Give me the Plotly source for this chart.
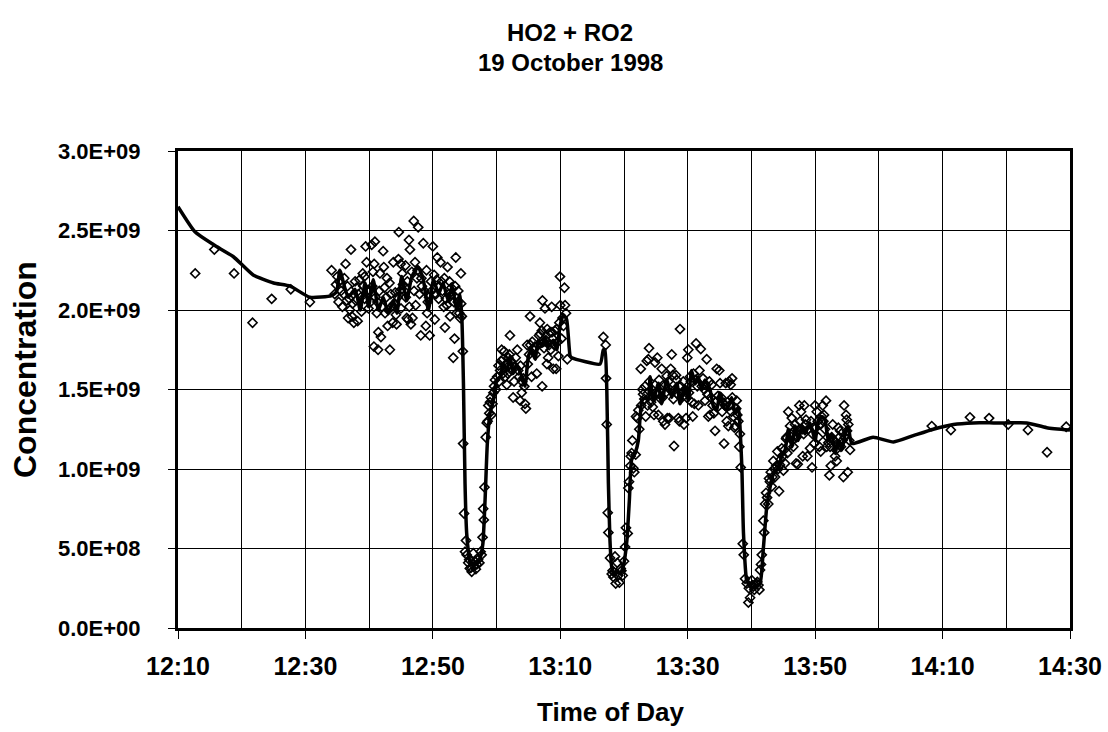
import pandas as pd
import plotly.graph_objects as go

# ---- data (time = minutes after 12:00, value = concentration / 1e9) ----
scatter_min = [
    12.7, 15.7, 18.8, 21.7, 24.7, 27.7, 30.7, 34.1,
    34.6, 35.0, 35.3, 35.6, 36.0, 36.3, 36.5, 36.7, 36.9, 37.15, 37.3, 37.4, 37.6, 37.8, 38.0, 38.2,
    38.5, 38.7, 39.0, 39.1, 39.25, 39.45, 39.6, 39.9, 40.1, 40.4, 40.6, 40.8, 40.9, 40.75, 41.3, 41.4,
    41.45, 41.7, 41.85, 42.2, 42.3, 42.5, 42.7, 42.9, 43.2, 43.25, 43.5, 43.7, 43.8, 44.1, 44.3, 44.6,
    44.65, 44.95, 45.0, 45.3, 45.7, 45.75, 45.9, 46.1, 46.25, 46.4, 46.55, 46.8, 47.0, 47.05, 47.3, 47.5,
    47.7, 48.1, 48.3, 48.5, 48.9, 49.0, 49.2, 49.5, 49.8, 50.0, 50.3, 50.6, 50.7, 50.9, 51.2, 51.35,
    51.7, 51.9, 52.05, 52.3, 52.5, 52.7, 52.9, 53.2, 53.4, 53.5, 53.6, 53.9, 54.15, 54.3, 54.4, 54.45,
    34.8, 35.2, 35.8, 36.1, 36.6, 37.0, 37.9, 38.3, 38.8, 39.3, 39.7, 40.2, 40.5, 41.0, 41.2, 41.6,
    42.0, 42.4, 42.8, 43.0, 43.4, 43.9, 44.2, 44.5, 44.8, 45.2, 45.5, 46.0, 46.3, 46.7, 47.2, 47.6,
    47.9, 48.2, 48.7, 49.1, 49.4, 49.7, 50.2, 50.5, 51.0, 51.5, 51.8, 52.2, 52.6, 53.0, 53.3, 53.7,
    54.0, 54.55,
    54.7, 54.75, 54.9, 55.05, 55.3, 55.55, 55.8, 56.1, 56.35, 56.6, 56.9, 57.3, 57.5, 57.8, 57.9, 58.1,
    58.3, 58.45, 58.7, 58.97, 59.2, 59.5, 59.75, 60.1, 60.3, 60.55, 60.8, 61.05, 61.2, 61.35, 61.6, 61.85,
    61.9, 62.1, 62.4, 62.6, 62.9, 63.25, 63.7, 63.75, 63.95, 64.2, 64.45, 64.6, 64.8, 65.25, 65.3, 65.5,
    65.8, 66.0, 66.3, 66.8, 66.85, 67.1, 67.15, 67.2, 67.6, 67.75, 67.9, 67.95, 68.1, 68.4, 68.65, 68.7,
    68.9, 69.15, 69.35, 69.45, 69.7, 69.95, 70.0, 70.2, 70.5, 70.65, 70.75, 71.1,
    55.2, 55.7, 56.0, 56.5, 56.75, 57.1, 57.65, 58.0, 58.6, 58.85, 59.1, 59.35, 59.6, 59.9, 60.4, 60.7,
    61.0, 61.45, 61.75, 62.0, 62.25, 62.75, 63.0, 63.4, 63.55, 64.0, 64.35, 64.9, 65.1, 65.6, 66.15,
    66.5, 66.65, 67.4, 67.45, 68.25, 68.5, 68.8, 69.05, 69.6, 69.85, 70.35, 70.9,
    76.76, 77.13, 77.18, 77.29, 77.45, 77.54,
    77.81, 78.07, 78.33, 78.59, 78.70, 78.95, 79.27, 79.49, 79.80, 80.17, 80.59, 80.68, 80.79, 81.06,
    81.31, 81.47, 81.62, 81.84, 81.89, 82.09, 82.25, 82.63, 82.88, 83.19, 83.41, 83.57, 83.82, 83.93,
    84.25, 84.51, 84.71, 84.87, 85.23, 85.39, 85.65, 85.92, 86.17, 86.44, 86.70, 86.80, 87.11, 87.33,
    87.49, 87.65, 87.85, 88.17, 88.28, 88.53, 88.69, 88.79, 89.42, 89.74, 89.94, 90.10, 90.36, 90.63,
    90.79, 91.04, 91.31, 91.67, 92.05, 92.20, 92.72, 92.98, 93.24, 93.50, 93.77, 94.29, 94.55, 94.96,
    95.07, 95.50, 95.70, 95.97, 96.13, 96.38, 96.54, 96.75, 96.96, 97.16, 97.32, 97.48, 97.69, 97.79,
    98.10, 98.32, 98.64, 98.79,
    78.2, 78.45, 79.1, 79.6, 80.0, 80.3, 81.0, 81.2, 82.4, 82.7, 83.0, 83.3, 83.7, 84.0, 84.4, 84.6,
    85.0, 85.5, 85.8, 86.05, 86.3, 86.55, 86.95, 87.2, 87.75, 88.0, 88.4, 88.9, 89.1, 89.3, 89.55,
    89.85, 90.2, 90.5, 90.9, 91.2, 91.5, 91.85, 92.4, 92.6, 92.85, 93.1, 93.4, 93.65, 93.9, 94.1,
    94.4, 94.75, 95.25, 95.4, 95.85, 96.25, 96.6, 96.85, 97.0, 97.6, 97.95, 98.2,
    99.00, 99.27, 99.52, 99.79, 100.05, 100.30, 100.57, 100.93, 101.25,
    101.35, 101.62, 101.87, 102.14, 102.29, 102.65, 102.76, 103.03, 103.19, 103.44, 103.71, 104.07,
    104.34, 104.49, 104.76, 105.01, 105.28, 105.43, 105.64, 105.79, 106.06, 106.33, 106.58, 106.84,
    107.00, 107.27, 107.52, 107.78, 108.05, 108.30, 108.57, 108.78, 109.20, 109.51, 109.72, 109.98,
    110.25, 110.50, 110.66, 110.88, 111.19, 111.40, 111.71, 111.82, 112.07, 112.23, 112.45, 112.76,
    113.13, 113.39, 113.64, 113.91, 114.43, 114.54, 114.85, 114.96, 115.12, 115.21, 115.48,
    99.6, 100.15, 100.45, 100.75, 101.1, 101.5, 102.0, 102.45, 102.9, 103.3, 103.6, 103.9, 104.2,
    104.6, 104.9, 105.15, 105.5, 105.9, 106.2, 106.45, 106.7, 107.1, 107.4, 107.65, 107.95, 108.2,
    108.45, 108.9, 109.35, 109.6, 109.85, 110.1, 110.4, 110.75, 111.05, 111.3, 111.55, 111.95,
    112.35, 112.6, 112.9, 113.25, 113.5, 113.8, 114.05, 114.3, 114.65, 115.0, 115.35,
    128.3, 131.3, 134.3, 137.3, 140.3, 143.4, 146.4, 149.4,
]
scatter_val = [
    2.23, 2.38, 2.23, 1.92, 2.07, 2.13, 2.05, 2.25,
    2.10, 2.21, 2.18, 2.12, 2.10, 2.29, 2.06, 1.95, 2.07, 2.38, 1.96, 2.04, 1.92, 2.18, 2.14, 1.93,
    2.19, 2.08, 2.23, 2.15, 2.21, 2.40, 2.30, 2.01, 2.12, 2.41, 2.24, 2.29, 2.43, 1.77, 2.05, 1.75,
    1.86, 2.23, 1.83, 2.37, 2.27, 1.98, 2.08, 1.90, 2.17, 1.75, 2.02, 1.92, 2.30, 2.11, 1.91, 2.32,
    2.49, 2.29, 2.01, 2.16, 2.28, 2.08, 1.95, 1.94, 2.44, 2.38, 1.91, 1.95, 2.56, 2.12, 2.03, 2.20,
    2.52, 1.84, 2.15, 2.42, 1.90, 2.25, 2.05, 1.84, 2.12, 2.40, 1.94, 2.19, 2.33, 2.07, 2.30, 2.18,
    2.02, 1.89, 2.07, 2.27, 2.10, 1.96, 2.14, 1.70, 1.82, 2.15, 2.33, 2.05, 1.98, 1.95, 2.23, 2.04,
    2.16, 2.05, 2.02, 2.20, 2.15, 2.00, 2.06, 2.10, 1.99, 2.07, 2.12, 2.05, 2.15, 2.08, 1.98, 2.12,
    2.02, 2.14, 2.20, 2.00, 2.10, 2.04, 1.97, 2.08, 2.12, 2.23, 2.12, 2.18, 2.02, 2.24, 2.30, 2.25,
    2.10, 2.20, 2.12, 1.98, 2.08, 2.18, 2.22, 2.10, 2.15, 2.12, 2.20, 2.03, 2.18, 2.10, 2.05, 1.98,
    2.12, 1.96,
    1.74, 1.16, 0.72, 0.48, 0.46, 0.41, 0.375, 0.354, 0.47, 0.42, 0.40, 0.41, 0.48, 0.57, 0.75, 0.885,
    1.20, 1.29, 1.40, 1.42, 1.34, 1.48, 1.56, 1.58, 1.65, 1.62, 1.75, 1.69, 1.74, 1.58, 1.53, 1.70,
    1.65, 1.84, 1.62, 1.45, 1.64, 1.75, 1.43, 1.65, 1.48, 1.57, 1.41, 1.38, 1.78, 1.96, 1.78, 1.58,
    1.75, 1.77, 1.60, 1.92, 1.85, 1.87, 1.52, 2.06, 2.01, 1.81, 1.66, 1.88, 1.70, 1.86, 2.02, 1.86,
    1.63, 1.87, 1.63, 1.88, 1.71, 2.21, 2.03, 1.82, 1.90, 2.14, 2.03, 1.69,
    0.55, 0.43, 0.38, 0.39, 0.37, 0.43, 0.46, 0.68, 1.30, 1.35, 1.45, 1.41, 1.52, 1.50, 1.55, 1.68,
    1.60, 1.66, 1.60, 1.72, 1.68, 1.55, 1.70, 1.62, 1.58, 1.55, 1.52, 1.66, 1.72, 1.80, 1.72,
    1.78, 1.84, 1.80, 1.76, 1.78, 1.75, 1.82, 1.78, 1.80, 1.92, 1.95, 1.98,
    1.83, 1.78, 1.57, 1.28, 0.725, 0.60,
    0.44, 0.34, 0.32, 0.45, 0.28, 0.41, 0.285, 0.375, 0.33, 0.51, 0.595, 0.88, 0.92, 1.08,
    1.18, 1.005, 0.98, 1.09, 1.33, 1.32, 1.37, 1.63, 1.50, 1.44, 1.33, 1.68, 1.69, 1.76,
    1.42, 1.39, 1.34, 1.67, 1.70, 1.34, 1.445, 1.63, 1.30, 1.28, 1.585, 1.32, 1.32, 1.63,
    1.72, 1.59, 1.145, 1.59, 1.56, 1.32, 1.30, 1.88, 1.28, 1.32, 1.70, 1.75, 1.58, 1.42,
    1.33, 1.41, 1.79, 1.40, 1.755, 1.52, 1.43, 1.69, 1.33, 1.34, 1.53, 1.24, 1.63, 1.62,
    1.54, 1.42, 1.16, 1.54, 1.30, 1.27, 1.55, 1.53, 1.57, 1.33, 1.26, 1.27, 1.43, 1.34,
    1.14, 1.01, 0.53, 0.46,
    0.36, 0.35, 0.33, 0.36, 0.42, 0.63, 1.02, 1.10, 1.25, 1.40, 1.47, 1.52, 1.40, 1.55, 1.50, 1.45,
    1.48, 1.56, 1.50, 1.45, 1.52, 1.48, 1.55, 1.50, 1.44, 1.50, 1.47, 1.52, 1.45, 1.55, 1.50,
    1.45, 1.48, 1.55, 1.60, 1.56, 1.52, 1.62, 1.57, 1.50, 1.53, 1.47, 1.55, 1.45, 1.40, 1.35,
    1.42, 1.46, 1.45, 1.36, 1.40, 1.42, 1.40, 1.36, 1.45, 1.38, 1.30, 1.22,
    0.31, 0.28, 0.16, 0.19, 0.30, 0.26, 0.27, 0.29, 0.24,
    0.365, 0.46, 0.675, 0.78, 0.85, 0.78, 0.94, 0.98, 0.89, 1.05, 0.95, 1.11,
    0.86, 1.025, 1.13, 0.99, 1.035, 1.19, 1.10, 1.36, 1.27, 1.32, 1.14, 1.28,
    1.035, 1.03, 1.40, 1.36, 1.08, 1.40, 1.31, 1.08, 1.13, 1.01, 1.26, 1.40,
    1.36, 1.20, 1.14, 1.11, 1.40, 1.34, 1.43, 1.14, 1.165, 0.96, 1.02, 1.28,
    1.08, 1.05, 1.26, 1.24, 0.95, 1.40, 1.34, 1.31, 0.98, 1.28, 1.12,
    0.25, 0.27, 0.24, 0.28, 0.27, 0.40, 0.60, 0.82, 0.92, 0.95, 1.00, 1.02, 1.00,
    1.06, 1.08, 1.12, 1.20, 1.15, 1.22, 1.18, 1.24, 1.20, 1.24, 1.30, 1.25, 1.22,
    1.28, 1.25, 1.30, 1.22, 1.16, 1.26, 1.30, 1.28, 1.33, 1.30, 1.25, 1.20,
    1.14, 1.20, 1.18, 1.12, 1.16, 1.20, 1.14, 1.18, 1.20, 1.24, 1.18,
    1.27, 1.245, 1.325, 1.32, 1.28, 1.245, 1.105, 1.266,
]

line_min = [
    10.0, 12.7, 15.6, 18.7, 21.8, 25.0, 27.6, 30.7, 34.1, 34.9, 35.4,
    36.7, 37.8, 38.6, 39.35, 39.9, 40.65, 41.45, 42.2, 43.0, 43.8, 44.35, 45.1, 45.9, 46.7,
    47.7, 48.5, 49.3, 50.1, 50.9, 51.6, 52.4, 53.0, 53.75, 54.25, 54.55,
    54.8, 55.05, 55.3, 55.55, 55.85, 56.35, 56.9, 57.4, 57.85, 58.2, 58.55, 58.97, 59.5, 60.0,
    60.55, 61.05, 61.6, 62.1, 62.6, 63.15, 63.95, 64.45, 65.0, 65.5, 66.05, 66.55, 67.1, 67.6,
    68.1, 68.9, 69.45, 69.95, 70.5, 71.0, 71.55, 71.8, 76.25, 76.75, 77.0,
    77.3, 77.55, 77.8, 78.05, 78.35, 78.85, 79.4, 79.9, 80.45, 80.85, 81.2, 81.75, 82.25, 82.5,
    82.8, 83.3, 83.8, 84.1, 84.6, 85.4, 85.9, 86.7, 87.5, 88.3, 88.8, 89.6, 90.1, 90.6,
    91.15, 91.65, 92.2, 92.7, 93.5, 94.05, 94.55, 95.05, 95.6, 96.15, 96.9, 97.45, 97.95, 98.2,
    98.5, 98.75, 99.25, 99.8, 100.55, 101.35, 101.85, 102.4, 102.95, 103.45, 104.25, 104.75,
    105.3, 105.8, 106.35, 106.85, 107.35, 107.9, 108.4, 109.2, 110.0, 110.5, 111.05, 111.55,
    112.05, 112.6, 113.15, 113.65, 114.2, 114.7, 115.2, 115.75,
    119.1, 122.3, 125.4, 128.55, 131.7, 134.8, 138.0, 140.1, 143.2, 146.35, 150.0,
]
line_val = [
    2.65, 2.49, 2.41, 2.335, 2.22, 2.17, 2.15, 2.08, 2.09, 2.115, 2.25,
    2.08, 2.13, 2.00, 2.17, 2.02, 2.19, 2.00, 2.08, 1.98, 2.06, 1.98, 2.21, 2.06, 2.21,
    2.27, 2.19, 2.00, 2.19, 2.10, 2.17, 2.06, 2.15, 2.00, 2.10, 1.95,
    1.54, 0.91, 0.60, 0.49, 0.41, 0.40, 0.41, 0.44, 0.53, 0.81, 1.16, 1.35, 1.43, 1.56,
    1.58, 1.66, 1.62, 1.71, 1.60, 1.66, 1.58, 1.52, 1.71, 1.75, 1.69, 1.81, 1.77, 1.83,
    1.77, 1.81, 1.75, 1.90, 1.97, 1.94, 1.71, 1.70, 1.66, 1.75, 1.75,
    1.50, 0.91, 0.55, 0.39, 0.34, 0.36, 0.34, 0.39, 0.55, 0.81, 1.06, 1.10, 1.18, 1.31,
    1.43, 1.45, 1.43, 1.58, 1.43, 1.54, 1.41, 1.56, 1.45, 1.54, 1.41, 1.52, 1.43, 1.62,
    1.54, 1.58, 1.50, 1.56, 1.50, 1.39, 1.37, 1.48, 1.39, 1.37, 1.45, 1.35, 1.39, 1.27,
    1.01, 0.60, 0.30, 0.26, 0.26, 0.28, 0.49, 0.76, 0.89, 0.97, 1.01, 1.08,
    1.12, 1.25, 1.14, 1.27, 1.18, 1.27, 1.22, 1.29, 1.18, 1.31, 1.33, 1.31,
    1.18, 1.22, 1.10, 1.18, 1.12, 1.22, 1.27, 1.16,
    1.20, 1.17, 1.21, 1.25, 1.28, 1.29, 1.29, 1.29, 1.29, 1.26, 1.245,
]

y_tick_vals = [0.0, 0.5, 1.0, 1.5, 2.0, 2.5, 3.0]
y_tick_text = ["0.0E+00", "5.0E+08", "1.0E+09", "1.5E+09", "2.0E+09", "2.5E+09", "3.0E+09"]

# ---- build ----
base = pd.Timestamp("1998-10-19 12:00")
to_dt = lambda mins: [base + pd.Timedelta(minutes=m) for m in mins]
scale = 1e9

FONT = "Liberation Sans, Arial, sans-serif"
L, T, W, H = 178, 151, 892, 477  # plot area in pixels


def px_x(x):
    return (x - L) / W


def px_y(y):
    return (T + H - y) / H


fig = go.Figure()
fig.add_trace(go.Scatter(
    x=to_dt(scatter_min), y=[v * scale for v in scatter_val], mode="markers",
    marker=dict(symbol="diamond-open", size=7, color="black", line=dict(width=1.6, color="black")),
    showlegend=False, hoverinfo="x+y",
))
fig.add_trace(go.Scatter(
    x=to_dt(line_min), y=[v * scale for v in line_val], mode="lines",
    line=dict(color="black", width=3.5, shape="spline", smoothing=0.5),
    showlegend=False,
))

fig.update_layout(
    width=1108, height=732,
    margin=dict(l=L, r=1108 - L - W, t=T, b=732 - T - H, autoexpand=False),
    paper_bgcolor="white", plot_bgcolor="white",
    font=dict(family=FONT, color="black"),
    xaxis=dict(
        type="date", automargin=False,
        range=[base + pd.Timedelta(minutes=10), base + pd.Timedelta(minutes=150)],
        tick0=base + pd.Timedelta(minutes=10), dtick=20 * 60 * 1000,
        tickformat="%H:%M",
        ticks="outside", ticklen=8, tickwidth=1, tickcolor="black",
        tickfont=dict(family=FONT, size=25, weight="bold", color="black"),
        ticklabelstandoff=6,
        showgrid=True, gridcolor="black", gridwidth=1,
        minor=dict(dtick=10 * 60 * 1000, tick0=base + pd.Timedelta(minutes=10),
                   showgrid=True, gridcolor="black", gridwidth=1, ticks=""),
        showline=True, linecolor="black", linewidth=3, mirror=True,
        zeroline=False,
    ),
    yaxis=dict(
        range=[0, 3e9], automargin=False,
        tickvals=[v * scale for v in y_tick_vals], ticktext=y_tick_text,
        ticks="outside", ticklen=7, tickwidth=1, tickcolor="black",
        tickfont=dict(family=FONT, size=22, weight="bold", color="black"),
        ticklabelstandoff=23,
        showgrid=True, gridcolor="black", gridwidth=1,
        showline=True, linecolor="black", linewidth=3, mirror=True,
        zeroline=False,
    ),
    annotations=[
        dict(text="HO2 + RO2", xref="paper", yref="paper",
             x=px_x(570), y=px_y(33), xanchor="center", yanchor="middle",
             showarrow=False, font=dict(family=FONT, size=24, weight="bold", color="black")),
        dict(text="19 October 1998", xref="paper", yref="paper",
             x=px_x(570), y=px_y(63), xanchor="center", yanchor="middle",
             showarrow=False, font=dict(family=FONT, size=24, weight="bold", color="black")),
        dict(text="Concentration", textangle=-90, xref="paper", yref="paper",
             x=px_x(25), y=px_y(370), xanchor="center", yanchor="middle",
             showarrow=False, font=dict(family=FONT, size=32, weight="bold", color="black")),
        dict(text="Time of Day", xref="paper", yref="paper",
             x=px_x(610), y=px_y(712), xanchor="center", yanchor="middle",
             showarrow=False, font=dict(family=FONT, size=26, weight="bold", color="black")),
    ],
)

fig.write_html("out.html", config={"displayModeBar": False},
               post_script="document.body.style.margin='0';document.body.style.padding='0';")
